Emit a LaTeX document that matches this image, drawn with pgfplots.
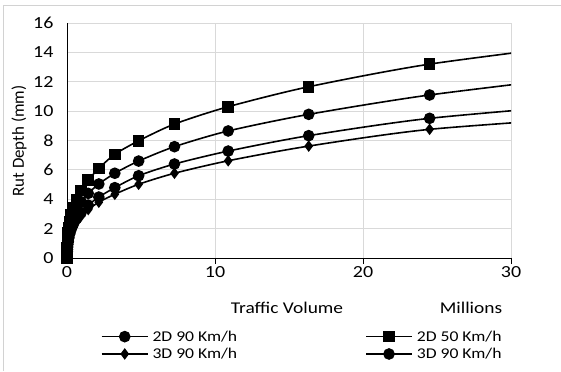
\documentclass[border=0pt]{standalone}
\usepackage{fontspec}
\setmainfont{Carlito}[FakeStretch=1.18]
\newfontfamily\ylabfont{Carlito}
\usepackage{pgfplots}
\pgfplotsset{compat=1.18}
\pgfplotstableread{
x       s50    c2d    c3d    d3d
0       0      0      0      0
0.0049  0.32   0.24   0.19   0.17
0.0074  0.42   0.33   0.26   0.24
0.0111  0.55   0.44   0.35   0.32
0.0166  0.71   0.58   0.46   0.42
0.0249  0.91   0.75   0.59   0.54
0.0373  1.14   0.95   0.75   0.69
0.056   1.41   1.18   0.93   0.86
0.084   1.72   1.44   1.14   1.05
0.126   2.07   1.73   1.38   1.27
0.189   2.47   2.06   1.65   1.52
0.283   2.92   2.43   1.95   1.80
0.425   3.42   2.85   2.29   2.11
0.637   3.98   3.31   2.67   2.46
0.956   4.60   3.83   3.10   2.86
1.434   5.30   4.40   3.60   3.30
2.15    6.10   5.04   4.15   3.80
3.23    7.06   5.77   4.79   4.34
4.84    7.98   6.60   5.60   5.02
7.26    9.12   7.58   6.40   5.77
10.89   10.30  8.65   7.28   6.62
16.33   11.66  9.78   8.33   7.62
24.5    13.20  11.10  9.51   8.76
36.75   14.80  12.60  10.60  9.67
}\datatable
\begin{document}
\begin{tikzpicture}[x=1bp,y=1bp]
\useasboundingbox (-67,-113) rectangle (494,258);
\draw[gray!35, line width=1bp] (-63,-113) -- (-63,253) -- (494,253);
\begin{axis}[
  at={(0,0)}, anchor=south west,
  scale only axis, width=444bp, height=235bp,
  xmin=0, xmax=30, ymin=0, ymax=16,
  xtick={0,10,20,30}, ytick={0,2,...,16},
  axis x line*=bottom, axis y line*=left,
  axis line style={black, line width=1bp, -},
  grid=major, major grid style={gray!30, line width=0.9bp},
  tick align=outside, major tick length=6bp,
  xtick style={black, line width=1bp},
  ytick style={draw=none},
  /pgf/number format/assume math mode=true,
  tick label style={font=\fontsize{17}{19}\selectfont},
  xticklabel style={anchor=center, yshift=-8bp},
  yticklabel style={anchor=east, xshift=-4bp},
  clip=true,
  legend columns=2,
  legend cell align=left,
  legend style={draw=none, fill=none, inner sep=0pt, anchor=north west,
    at={(0.076,-0.30)}, font=\fontsize{15}{18}\selectfont, row sep=1.5bp,
    /tikz/every odd column/.append style={column sep=2bp},
    /tikz/every even column/.append style={column sep=126bp}},
  legend image code/.code={\draw[mark repeat=2,mark phase=2,#1] plot coordinates {(0bp,0bp) (23bp,0bp) (46bp,0bp)};},
  every axis plot/.append style={black, line width=1.6bp, smooth, tension=0.45},
]
\addplot[mark=*, mark size=5bp, mark options={solid}] table[x=x, y=c2d] {\datatable};
\addlegendentry{2D 90 Km/h}
\addplot[mark=square*, mark size=5bp, mark options={solid}] table[x=x, y=s50] {\datatable};
\addlegendentry{2D 50 Km/h}
\addplot[mark=diamond*, mark size=4.5bp, mark options={solid}] table[x=x, y=d3d] {\datatable};
\addlegendentry{3D 90 Km/h}
\addplot[mark=*, mark size=5bp, mark options={solid}] table[x=x, y=c3d] {\datatable};
\addlegendentry{3D 90 Km/h}
\end{axis}
\node[font=\fontsize{16.5}{19}\selectfont] at (220,-50) {Traffic Volume};
\node[font=\fontsize{16.5}{19}\selectfont] at (404,-50) {Millions};
\node[font=\ylabfont\fontsize{17}{19}\selectfont, rotate=90] at (-48,117) {Rut Depth (mm)};
\end{tikzpicture}
\end{document}
